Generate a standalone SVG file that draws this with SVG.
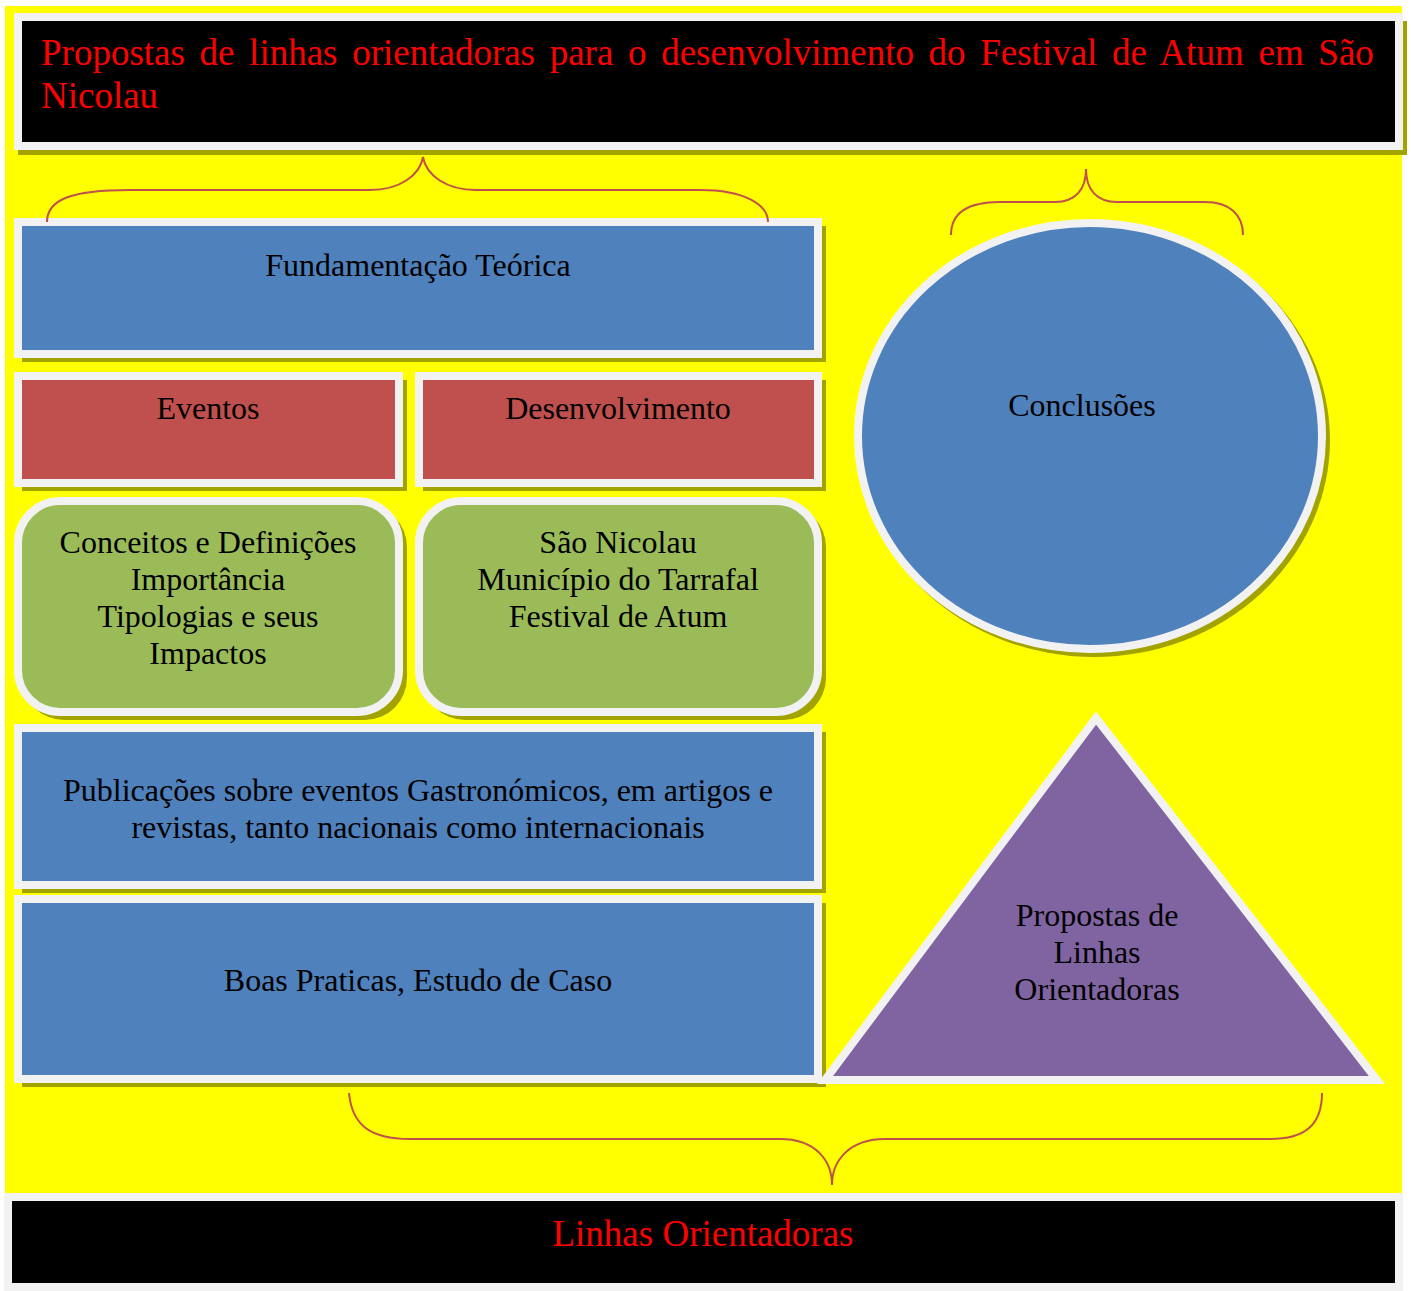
<svg xmlns="http://www.w3.org/2000/svg" width="1411" height="1291" viewBox="0 0 1411 1291">
<style>
.fr{stroke:#f2f2f2;stroke-width:8}
.sh{fill:#a3a300}
.blue{fill:#4f81bd}
.red{fill:#c0504d}
.green{fill:#9bbb59}
.purple{fill:#8064a2}
.blk{fill:#000}
.t{font-family:"Liberation Serif","Times New Roman",serif;font-size:32px;fill:#000;text-anchor:middle}
.tr{font-family:"Liberation Serif","Times New Roman",serif;font-size:37px;fill:#ff0000}
.brace{fill:none;stroke:#c0504d;stroke-width:2}
</style>
<rect x="0" y="0" width="1411" height="1291" fill="#fff"/>
<rect x="5" y="6" width="1397" height="1189" fill="#ffff00"/>

<g id="title">
<rect class="sh" x="18" y="21" width="1389" height="134"/>
<rect class="blk fr" x="18" y="17" width="1381" height="129"/>
<text class="tr" x="41" y="65" word-spacing="5.4">Propostas de linhas orientadoras para o desenvolvimento do Festival de Atum em São</text>
<text class="tr" x="41" y="108">Nicolau</text>
</g>

<g id="fundamentacao">
<rect class="sh" x="22" y="226" width="804" height="136"/>
<rect class="blue fr" x="18" y="222" width="800" height="132"/>
<text class="t" x="418" y="276">Fundamentação Teórica</text>
</g>

<g id="eventos">
<rect class="sh" x="22" y="380" width="385" height="111"/>
<rect class="red fr" x="18" y="376" width="381" height="107"/>
<text class="t" x="208" y="419">Eventos</text>
</g>

<g id="desenvolvimento">
<rect class="sh" x="423" y="380" width="403" height="111"/>
<rect class="red fr" x="419" y="376" width="399" height="107"/>
<text class="t" x="618" y="419">Desenvolvimento</text>
</g>

<g id="conceitos">
<rect class="sh" x="22" y="505" width="385" height="215" rx="42"/>
<rect class="green fr" x="18" y="501" width="381" height="211" rx="42"/>
<text class="t" x="208" y="553">Conceitos e Definições</text>
<text class="t" x="208" y="590">Importância</text>
<text class="t" x="208" y="627">Tipologias e seus</text>
<text class="t" x="208" y="664">Impactos</text>
</g>

<g id="saonicolau">
<rect class="sh" x="423" y="505" width="403" height="215" rx="42"/>
<rect class="green fr" x="419" y="501" width="399" height="211" rx="42"/>
<text class="t" x="618" y="553">São Nicolau</text>
<text class="t" x="618" y="590">Município do Tarrafal</text>
<text class="t" x="618" y="627">Festival de Atum</text>
</g>

<g id="publicacoes">
<rect class="sh" x="22" y="732" width="804" height="161"/>
<rect class="blue fr" x="18" y="728" width="800" height="157"/>
<text class="t" x="418" y="801">Publicações sobre eventos Gastronómicos, em artigos e</text>
<text class="t" x="418" y="838">revistas, tanto nacionais como internacionais</text>
</g>

<g id="boaspraticas">
<rect class="sh" x="22" y="903" width="804" height="184"/>
<rect class="blue fr" x="18" y="899" width="800" height="180"/>
<text class="t" x="418" y="991">Boas Praticas, Estudo de Caso</text>
</g>

<g id="conclusoes">
<ellipse class="sh" cx="1094" cy="440" rx="236" ry="217"/>
<ellipse class="blue fr" cx="1090" cy="436" rx="232" ry="213"/>
<text class="t" x="1082" y="416">Conclusões</text>
</g>

<g id="propostas">
<polygon class="sh" points="1100,722 829,1084 1381,1084"/>
<polygon class="purple fr" points="1096,718 825,1080 1377,1080"/>
<text class="t" x="1097" y="926">Propostas de</text>
<text class="t" x="1097" y="963">Linhas</text>
<text class="t" x="1097" y="1000">Orientadoras</text>
</g>

<g id="linhas">
<rect class="blk fr" x="8" y="1197" width="1391" height="90"/>
<text class="tr" x="703" y="1246" text-anchor="middle">Linhas Orientadoras</text>
</g>

<g id="connectors">
<path class="brace" d="M47,222 C47,200 70,190 130,190 L370,190 C400,190 420,175 423,157 C426,175 446,190 476,190 L700,190 C745,190 768,205 768,222"/>
<path class="brace" d="M951,235 C951,215 965,202 1000,202 L1055,202 C1075,202 1086,190 1086,169 C1086,190 1097,202 1117,202 L1205,202 C1230,202 1243,215 1243,235"/>
<path class="brace" d="M349,1093 C352,1125 370,1139 410,1139 L780,1139 C815,1139 832,1160 832,1185 C832,1160 850,1139 885,1139 L1270,1139 C1305,1139 1322,1125 1322,1093"/>
</g>
</svg>
